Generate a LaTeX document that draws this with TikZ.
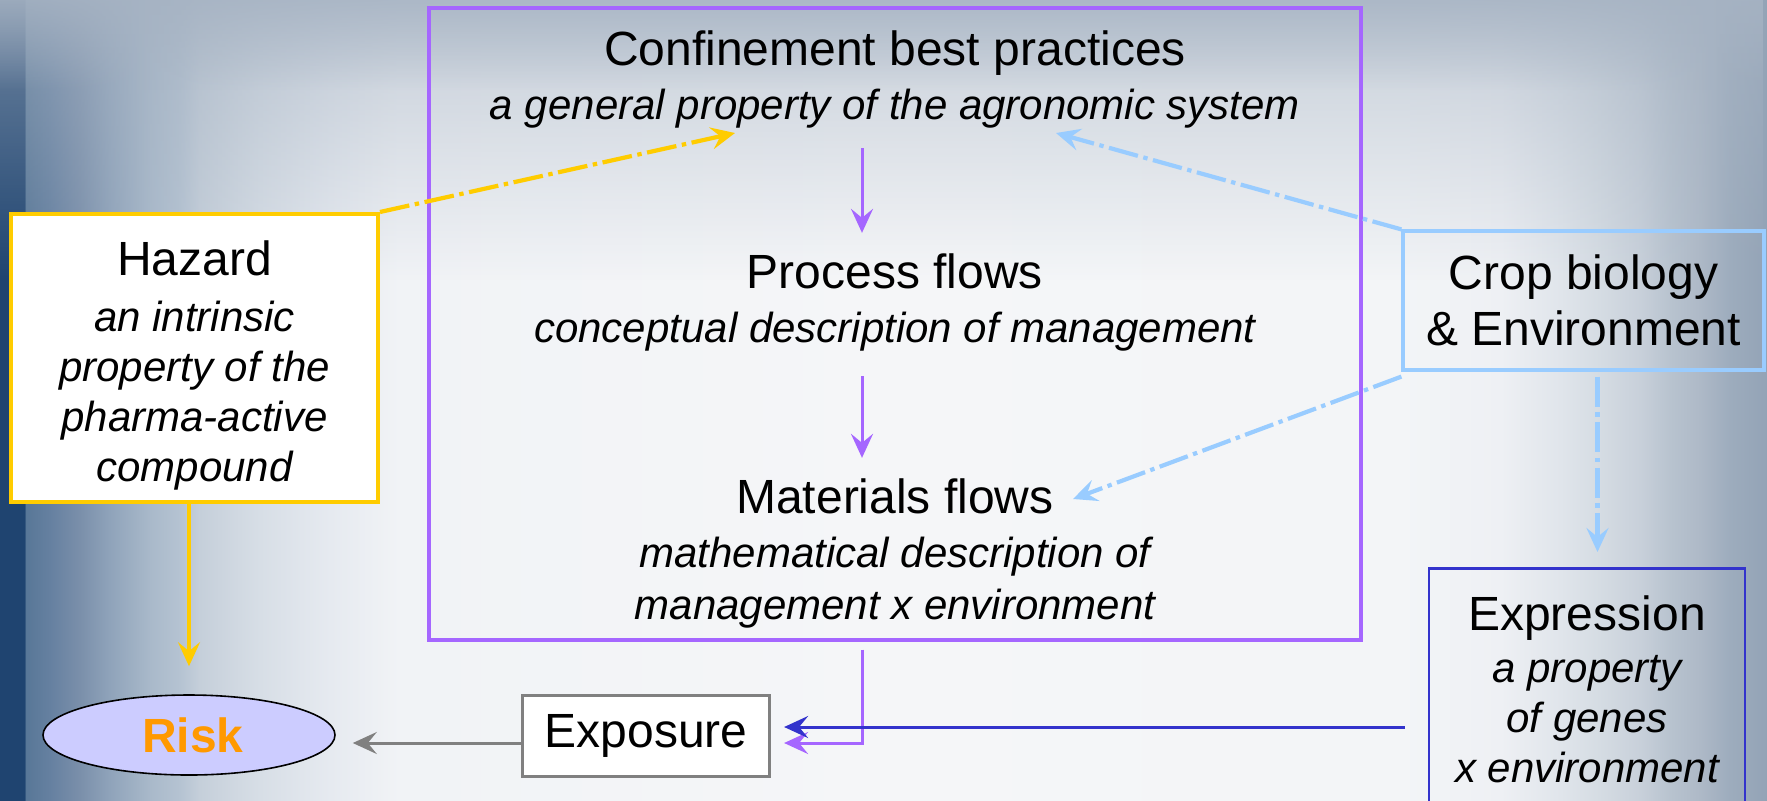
\documentclass[tikz,border=0pt]{standalone}
\usepackage{fontspec}
\setmainfont{Liberation Sans}
\usetikzlibrary{arrows.meta,shapes.geometric,fadings}

\definecolor{purp}{HTML}{A566FF}
\definecolor{gold}{HTML}{FFCC00}
\definecolor{skyb}{HTML}{99CCFF}
\definecolor{deepb}{HTML}{3333CC}
\definecolor{riskfill}{HTML}{CCCCFF}
\definecolor{riskorange}{HTML}{FF9900}
\definecolor{bgnavy}{HTML}{1F4470}
\definecolor{bgtop}{HTML}{A6B3C3}
\definecolor{l1}{HTML}{587797}
\definecolor{l2}{HTML}{6580A0}
\definecolor{l3}{HTML}{7A8FAA}
\definecolor{l4}{HTML}{8FA3BA}
\definecolor{l5}{HTML}{A9B9CA}
\definecolor{l6}{HTML}{B5C3D2}
\definecolor{l7}{HTML}{C5CFDA}
\definecolor{l8}{HTML}{D7DEE6}
\definecolor{l9}{HTML}{E6EAF0}
\definecolor{l10}{HTML}{F1F3F6}
\definecolor{mid}{HTML}{F5F6F8}
\definecolor{r1}{HTML}{F3F5F7}
\definecolor{r2}{HTML}{EEF0F4}
\definecolor{r3}{HTML}{E0E5EB}
\definecolor{r4}{HTML}{D5DCE3}
\definecolor{r5}{HTML}{C8D0DA}
\definecolor{r6}{HTML}{B8C3CF}
\definecolor{r7}{HTML}{AEB9C7}
\definecolor{r8}{HTML}{9DACBD}
\definecolor{r9}{HTML}{93A3B6}
\pgfdeclarehorizontalshading{slidebg}{100bp}{color(0bp)=(bgnavy); color(25bp)=(bgnavy);
  color(25.7bp)=(bgnavy); color(25.725bp)=(l1); color(26.4bp)=(l2); color(27.25bp)=(l3);
  color(28.1bp)=(l4); color(29.25bp)=(l5); color(30.1bp)=(l6); color(30.65bp)=(l7);
  color(32.35bp)=(l8); color(34.35bp)=(l9); color(36.3bp)=(l10); color(50bp)=(mid);
  color(64.6bp)=(r1); color(67.45bp)=(r2); color(69.15bp)=(r3); color(70.25bp)=(r4);
  color(71.4bp)=(r5); color(72.25bp)=(r6); color(73.1bp)=(r7); color(73.95bp)=(r8);
  color(75bp)=(r9); color(100bp)=(r9)}
\tikzfading[name=fadedown,top color=transparent!0,bottom color=transparent!100]

\newcommand\headline[1]{{\upshape\fontsize{24}{26}\selectfont #1}}

\begin{document}
\begin{tikzpicture}[x=0.5pt,y=-0.5pt,
  every node/.style={inner sep=0pt},
  txt/.style={align=center,font=\fontsize{21}{26}\selectfont\itshape},
  panel/.style={draw,rectangle,line width=1.6pt,align=center,font=\fontsize{21}{25}\selectfont\itshape},
  flow/.style={-{Stealth[length=12pt,width=11pt,inset=4.5pt]},line width=1.5pt},
  dashdot/.style={-{Stealth[length=12pt,width=11pt,inset=4.5pt]},line width=2.1pt,
    dash pattern=on 15pt off 2.8pt on 2.2pt off 2.8pt}]
\clip (0,0) rectangle (1767,800);
% slide background
\shade[shading=slidebg] (0,0) rectangle (1767,800);
\fill[bgtop,opacity=0.6,path fading=fadedown] (0,0) rectangle (1767,280);
\fill[bgtop,opacity=0.8,path fading=fadedown] (0,0) rectangle (1767,90);

% management system
\node[panel,draw=purp,minimum width=466pt,minimum height=316pt] (sys) at (895,324) {};
\node[txt] (conf) at (895,79) {\headline{Confinement best practices}\\[1pt]a general property of the agronomic system};
\node[txt] (proc) at (895,302) {\headline{Process flows}\\[1pt]conceptual description of management};
\node[txt] (mat) at (895,553) {\headline{Materials flows}\\[1pt]mathematical description of\\management x environment};

% outside boxes
\node[panel,draw=gold,fill=white,line width=2pt,minimum width=183.5pt,minimum height=144pt] (haz) at (194.5,358)
  {\rule{0pt}{24.5pt}\headline{Hazard}\\[3pt]an intrinsic\\property of the\\pharma-active\\compound};
\node[ellipse,draw=black,fill=riskfill,line width=0.8pt,minimum width=146pt,minimum height=40pt,
  font=\fontsize{24}{26}\selectfont\bfseries,text=riskorange] (risk) at (189,735) {\hspace{4pt}Risk};
\node[panel,draw=gray,fill=white,minimum width=123.5pt,minimum height=40.5pt] (expo) at (646,736) {\headline{Exposure}};
\node[panel,draw=skyb,minimum width=180.5pt,minimum height=69.5pt,font=\fontsize{24}{28}\selectfont] (crop) at (1583.5,300.5)
  {Crop biology\\\& Environment};
\node[panel,draw=deepb,line width=1.4pt,minimum width=158pt,minimum height=121pt,anchor=north] (expr) at (1587,567)
  {\headline{Expression}\\[1pt]a property\\of genes\\x environment};

\coordinate (goldtip) at (735,133);
\coordinate (skytop) at (1056,133);
\coordinate (skymat) at (1073,499);
\coordinate (pin) at ([xshift=6.5pt,yshift=-3.5pt]expo.east);
\coordinate (bin) at ([xshift=6.5pt,yshift=4.5pt]expo.east);

% connectors
\draw[flow,purp,shorten <=10pt,shorten >=10pt] ([xshift=-16.5pt]conf.south) -- ([xshift=-16.5pt]proc.north);
\draw[flow,purp,shorten <=12.5pt,shorten >=10pt] ([xshift=-16.5pt]proc.south) -- ([xshift=-16.5pt]mat.north);
\draw[flow,purp] ([xshift=-16.5pt,yshift=-4pt]sys.south) |- (pin);
\draw[flow,deepb] ([xshift=-11.5pt]expr.west |- bin) -- (bin);
\draw[flow,gray,shorten >=8.5pt] ([yshift=-3.5pt]expo.west) -- ([yshift=-3.5pt]expo.west -| risk.east);
\draw[flow,gold,line width=2pt,shorten >=14pt] (haz.south -| risk.north) -- (risk.north);
\draw[dashdot,gold] (haz.north east) -- (goldtip);
\draw[dashdot,skyb] (crop.north west) -- (skytop);
\draw[dashdot,skyb] ([yshift=-2.5pt]crop.south west) -- (skymat);
\draw[dashdot,skyb,shorten <=2.5pt,shorten >=7.5pt] ([xshift=7pt]crop.south) -- ([xshift=7pt]crop.south |- expr.north);
\end{tikzpicture}
\end{document}
